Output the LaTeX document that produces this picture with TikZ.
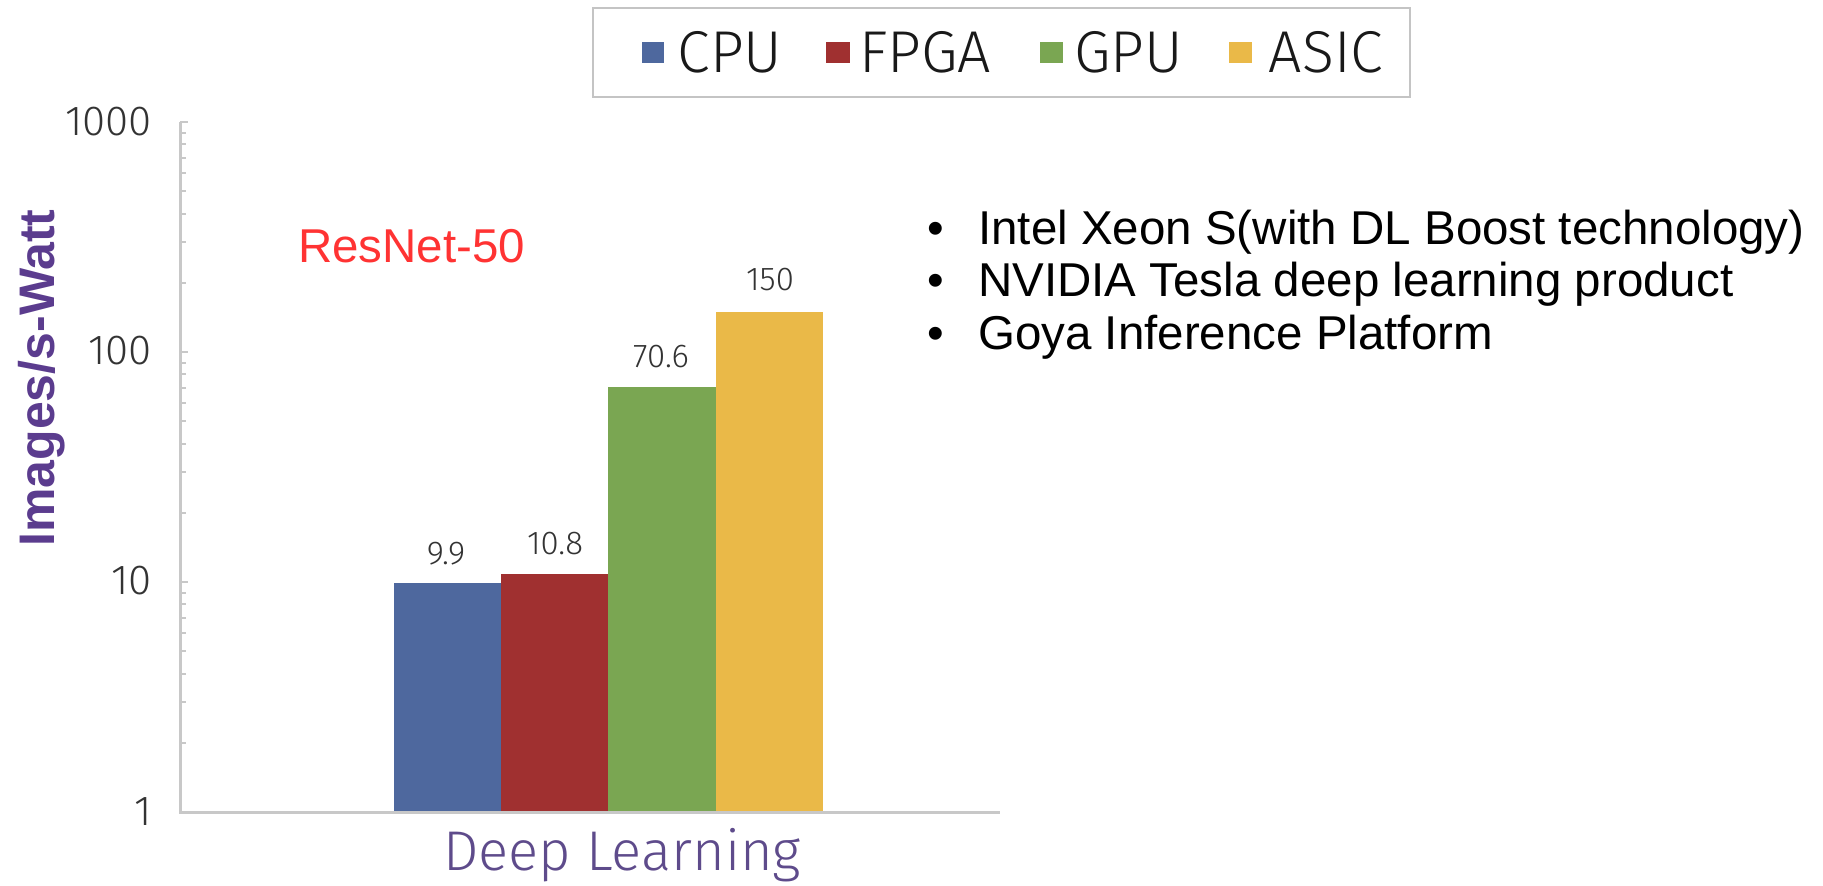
\documentclass[tikz,border=0pt]{standalone}
\usepackage{fontspec}
\setmainfont{Liberation Sans}
\newfontfamily\plex{Fira Sans Light}
\definecolor{cpu}{HTML}{4E689E}
\definecolor{fpga}{HTML}{A03030}
\definecolor{gpu}{HTML}{7AA652}
\definecolor{asic}{HTML}{EAB948}
\definecolor{axisgray}{HTML}{C8C8C8}
\definecolor{boxgray}{HTML}{C4C4C4}
\definecolor{purp}{HTML}{5B3C8E}
\definecolor{dlpurp}{HTML}{5E4B8B}
\definecolor{resred}{HTML}{FF3333}
\definecolor{txtgray}{HTML}{333333}
\tikzset{
  axisline/.style={draw=axisgray, line width=3pt},
  minortick/.style={draw=axisgray, line width=2pt},
  ticklabel/.style={anchor=east, inner sep=0pt, text=txtgray, font=\plex\fontsize{42}{44}\selectfont},
  vallabel/.style={anchor=center, inner sep=0pt, text=txtgray, font=\plex\fontsize{33}{35}\selectfont},
  legtext/.style={anchor=base, inner sep=0pt, text=black!90, font=\plex\fontsize{59}{62}\selectfont},
  bullettext/.style={anchor=base west, inner sep=0pt, text=black, font=\fontsize{47.5}{52}\selectfont},
  bulletdot/.style={anchor=base, inner sep=0pt, text=black, font=\fontsize{47.5}{52}\selectfont},
}
\begin{document}
\begin{tikzpicture}[x=1pt,y=-1pt]
\useasboundingbox (0,0) rectangle (1823,886);

% legend
\node[draw=boxgray, line width=2pt, minimum width=817pt, minimum height=89pt, inner sep=0pt] (legend) at (1001.5,52.5) {};
\fill[cpu]  (642,42) rectangle (664,63);
\fill[fpga] (826,42) rectangle (850,63);
\fill[gpu]  (1040,42) rectangle (1063,63);
\fill[asic] (1229,42) rectangle (1252,63);
\node[legtext] (lcpu)  at (730,72)  {CPU};
\node[legtext] (lfpga) at (925,72)  {FPGA};
\node[legtext] (lgpu)  at (1128.5,72) {GPU};
\node[legtext] (lasic) at (1326,72) {ASIC};

% bars
\fill[cpu]  (394,812) rectangle (501,{812-230*log10(9.9)});
\fill[fpga] (501,812) rectangle (608,{812-230*log10(10.8)});
\fill[gpu]  (608,812) rectangle (716,{812-230*log10(70.6)});
\fill[asic] (716,812) rectangle (823,{812-230*log10(150)});

% value labels
\node[vallabel] (v1) at (446,{812-230*log10(9.9)-29}) {9.9};
\node[vallabel] (v2) at (555,{812-230*log10(10.8)-31}) {10.8};
\node[vallabel] (v3) at (661,{812-230*log10(70.6)-30}) {70.6};
\node[vallabel] (v4) at (770,{812-230*log10(150)-32}) {150};

% axes
\draw[axisline] (180,122) -- (180,812) -- (1000,812);
\foreach \d in {0,1,2}{
  \foreach \k in {2,...,9}{
    \draw[minortick] (180,{812-230*(\d+log10(\k))}) -- ++(6,0);
  }
}
\foreach \yy in {122,352,582}{
  \draw[minortick] (180,\yy) -- ++(8,0);
}
\node[ticklabel] (t1000) at (152,122) {1000};
\node[ticklabel] (t100)  at (152,351) {100};
\node[ticklabel] (t10)   at (152,581) {10};
\node[ticklabel] (t1)    at (152,812) {1};

% axis titles
\node[rotate=90, anchor=base, inner sep=0pt, text=purp, font=\fontsize{50}{60}\selectfont\bfseries] (ylab) at (54,378) {Images/s-Watt};
\node[anchor=base, inner sep=0pt, text=dlpurp, font=\plex\fontsize{56}{60}\selectfont] (xlab) at (622,870) {Deep Learning};

% ResNet label
\node[anchor=base west, inner sep=0pt, text=resred, font=\fontsize{47.5}{52}\selectfont] (resnet) at (298,262) {ResNet-50};

% bullets
\node[bulletdot] (b1) at (936,244) {•};
\node[bulletdot] (b2) at (936,296) {•};
\node[bulletdot] (b3) at (936,349) {•};
\node[bullettext] (l1) at (978,244) {Intel Xeon S(with DL Boost technology)};
\node[bullettext] (l2) at (978,296) {NVIDIA Tesla deep learning product};
\node[bullettext] (l3) at (978,349) {Goya Inference Platform};
\end{tikzpicture}
\end{document}
